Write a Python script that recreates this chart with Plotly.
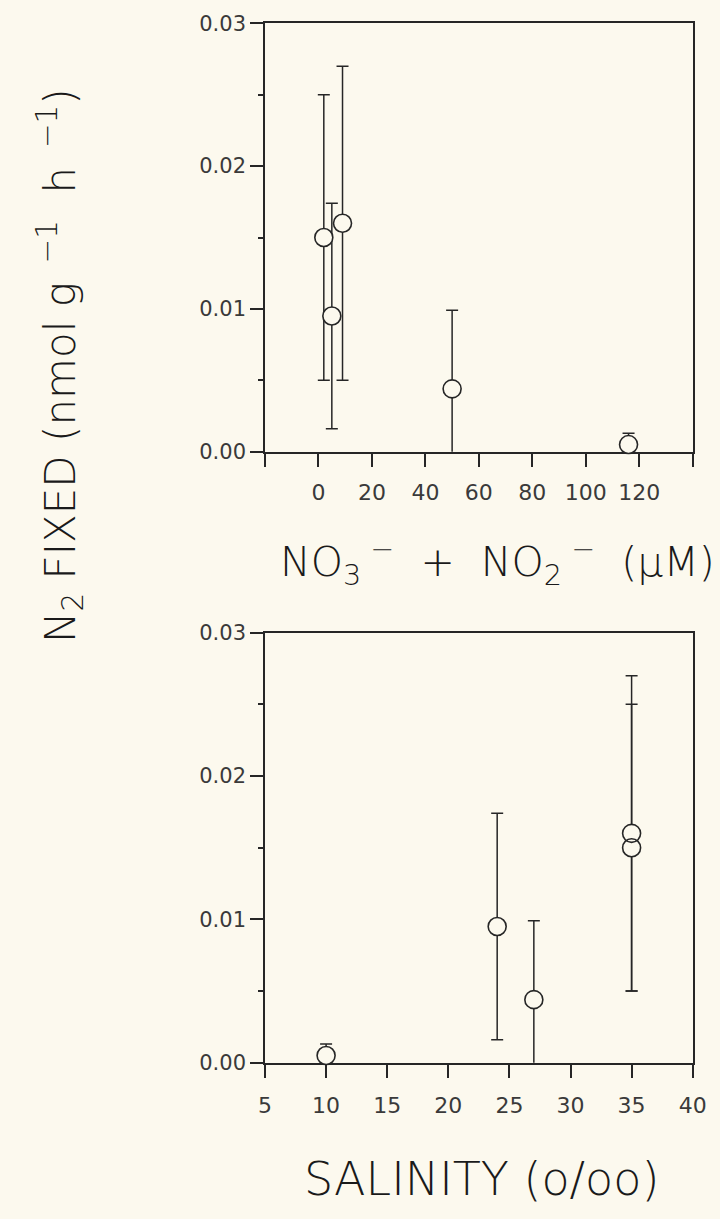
import plotly.graph_objects as go

# ---- data ----
nitrate_nitrite_uM = [2, 5, 9, 50, 116]
salinity_ppt = [35, 24, 35, 27, 10]
n2_fixed = [0.0150, 0.0095, 0.0160, 0.0044, 0.0005]
n2_err = [0.0100, 0.0079, 0.0110, 0.0055, 0.0008]

x1_ticks = [-20, 0, 20, 40, 60, 80, 100, 120, 140]
x1_labels = ["", "0", "20", "40", "60", "80", "100", "120", ""]
x2_ticks = [5, 10, 15, 20, 25, 30, 35, 40]
x2_labels = ["5", "10", "15", "20", "25", "30", "35", "40"]
y_ticks = [0.00, 0.01, 0.02, 0.03]
y_labels = ["0.00", "0.01", "0.02", "0.03"]

BG = "#fcf9ee"
INK = "#262626"
FONT = "DejaVu Sans"
W, H = 720, 1219

fig = go.Figure()

def add_panel(xvals, xa, ya):
    # error bars (clipped to plot area)
    fig.add_trace(go.Scatter(
        x=xvals, y=n2_fixed, mode="markers", xaxis=xa, yaxis=ya,
        marker=dict(size=1, color="rgba(0,0,0,0)"),
        error_y=dict(type="data", array=n2_err, visible=True,
                     color=INK, thickness=1.5, width=6),
        cliponaxis=True, showlegend=False, hoverinfo="skip"))
    # filled background discs hiding the bar inside circles
    fig.add_trace(go.Scatter(
        x=xvals, y=n2_fixed, mode="markers", xaxis=xa, yaxis=ya,
        marker=dict(size=18, color=BG, line=dict(width=0)),
        cliponaxis=False, showlegend=False, hoverinfo="skip"))
    # open circle outlines
    fig.add_trace(go.Scatter(
        x=xvals, y=n2_fixed, mode="markers", xaxis=xa, yaxis=ya,
        marker=dict(size=18, symbol="circle-open", color=INK, line=dict(width=1.6)),
        cliponaxis=False, showlegend=False))

add_panel(nitrate_nitrite_uM, "x", "y")
add_panel(salinity_ppt, "x2", "y2")

def px_x(p):
    return p / W

def px_y(p):
    return (H - p) / H

yfont = dict(family=FONT, size=21, color="#3a3a3a")
xfont = dict(family=FONT, size=22, color="#3a3a3a")

axis_common = dict(showline=True, linecolor=INK, linewidth=1.6, mirror=True,
                   ticks="outside", tickcolor=INK, tickwidth=1.5, ticklen=13,
                   showgrid=False, zeroline=False, layer="below traces",
                   automargin=False)
minor_y = dict(dtick=0.005, tick0=0, ticks="outside", ticklen=5,
               tickcolor=INK, tickwidth=1.5, showgrid=False)

xdom = [px_x(265), px_x(692.7)]

fig.update_layout(
    template="none",
    width=W, height=H,
    margin=dict(l=0, r=0, t=0, b=0, pad=0),
    paper_bgcolor=BG, plot_bgcolor=BG,
    showlegend=False,
    xaxis=dict(domain=xdom, range=[-20, 140], tickmode="array",
               tickvals=x1_ticks, ticktext=x1_labels, anchor="y",
               tickfont=xfont, ticklabelstandoff=7, **axis_common),
    yaxis=dict(domain=[px_y(451.7), px_y(23.3)], range=[0, 0.03], tickmode="array",
               tickvals=y_ticks, ticktext=y_labels, anchor="x",
               tickfont=yfont, minor=minor_y, **axis_common),
    xaxis2=dict(domain=xdom, range=[5, 40], tickmode="array",
                tickvals=x2_ticks, ticktext=x2_labels, anchor="y2",
                tickfont=xfont, ticklabelstandoff=9, **axis_common),
    yaxis2=dict(domain=[px_y(1062.7), px_y(632.7)], range=[0, 0.03], tickmode="array",
                tickvals=y_ticks, ticktext=y_labels, anchor="x2",
                tickfont=yfont, minor=minor_y, **axis_common),
)

def tfont(size):
    return dict(family=FONT, size=size, color="#1a1a1a", weight=300)

fig.add_annotation(
    text="N<sub>2</sub> FIXED (nmol g<sup>  −1</sup>  h<sup>  −1</sup>)",
    xref="paper", yref="paper", x=px_x(60), y=px_y(366),
    xanchor="center", yanchor="middle", textangle=-90, showarrow=False,
    font=tfont(42))

fig.add_annotation(
    text="NO<sub>3</sub><sup> −</sup>  +  NO<sub>2</sub><sup> −</sup>  (μM)",
    xref="paper", yref="paper", x=px_x(497), y=px_y(562),
    xanchor="center", yanchor="middle", showarrow=False,
    font=tfont(41))

fig.add_annotation(
    text="SALINITY (o/oo)",
    xref="paper", yref="paper", x=px_x(482), y=px_y(1179),
    xanchor="center", yanchor="middle", showarrow=False,
    font=tfont(46))

fig.write_html(
    "out.html",
    config={"displayModeBar": False},
    post_script="document.body.style.margin='0';"
                "document.body.style.background='#fcf9ee';"
                "document.documentElement.style.overflow='hidden';")
